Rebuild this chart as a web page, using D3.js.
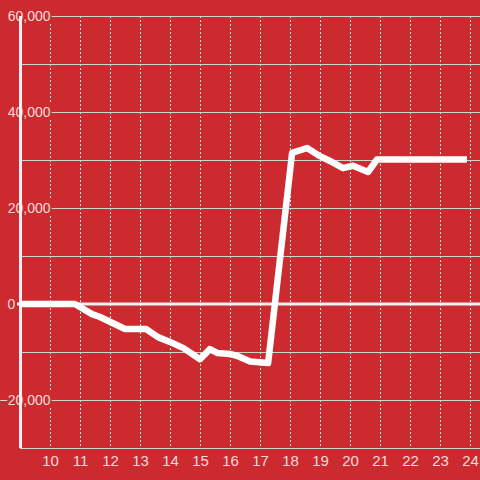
<!DOCTYPE html>
<html>
<head>
<meta charset="utf-8">
<script src="https://cdn.jsdelivr.net/npm/d3@7/dist/d3.min.js"></script>
<style>
  html, body { margin: 0; padding: 0; background: #cc2a2e; }
  svg { display: block; font-family: "Liberation Sans", Arial, sans-serif; }
</style>
</head>
<body>
<div id="chart"></div>
<script>
// series
const hours = [9, 10.83, 11.4, 11.67, 12.5, 13.2, 13.6, 14.0, 14.45, 15.0, 15.33, 15.57, 16.0, 16.23, 16.67, 17.27,
               18.07, 18.57, 19.0, 19.33, 19.77, 20.1, 20.6, 20.9, 23.9];
const values = [0, 0, -2100, -2700, -5200, -5200, -6900, -7900, -9200, -11500, -9400, -10200, -10400, -10800, -12000, -12300,
                31500, 32500, 30800, 29800, 28300, 28800, 27500, 30100, 30100];
const xTicks = [10, 11, 12, 13, 14, 15, 16, 17, 18, 19, 20, 21, 22, 23, 24];
const yGrid = [-30000, -20000, -10000, 0, 10000, 20000, 30000, 40000, 50000, 60000];
const yLabels = [-20000, 0, 20000, 40000, 60000];

const w = 480;
const h = 480;
const bg = '#cc2a2e';
const labelColor = '#f5dada';

const x = d3.scaleLinear().domain([9, 24.333]).range([20, 480]);
const y = d3.scaleLinear().domain([-30000, 60000]).range([448, 16]);

const svg = d3.select('#chart')
              .append('svg')
              .attr('width', w)
              .attr('height', h);

svg.append('rect').attr('width', w).attr('height', h).attr('fill', bg);

// vertical dashed grid
svg.append('g')
   .selectAll('line')
   .data(xTicks)
   .join('line')
   .attr('x1', d => x(d) + 0.5)
   .attr('x2', d => x(d) + 0.5)
   .attr('y1', y(60000))
   .attr('y2', y(-30000))
   .attr('stroke', '#e6e6e6')
   .attr('stroke-width', 1)
   .attr('stroke-dasharray', '2,2');

// horizontal grid
svg.append('g')
   .selectAll('line')
   .data(yGrid.filter(d => d !== 0))
   .join('line')
   .attr('x1', x(9))
   .attr('x2', w)
   .attr('y1', d => Math.round(y(d)) + 0.5)
   .attr('y2', d => Math.round(y(d)) + 0.5)
   .attr('stroke', '#d2d2d2')
   .attr('stroke-width', 1);

// zero line
svg.append('line')
   .attr('x1', 17)
   .attr('x2', w)
   .attr('y1', y(0))
   .attr('y2', y(0))
   .attr('stroke', '#f0f0f0')
   .attr('stroke-width', 3);

// y labels with background boxes (zero label sits left of the axis)
const fmt = d3.format(',');
const yl = svg.append('g')
              .selectAll('g')
              .data(yLabels)
              .join('g');

yl.append('text')
  .attr('x', d => d === 0 ? 7.5 : 50.5)
  .attr('y', d => y(d))
  .attr('dy', '0.35em')
  .attr('text-anchor', d => d === 0 ? 'start' : 'end')
  .attr('font-size', 14)
  .attr('fill', labelColor)
  .text(d => fmt(d));

yl.each(function() {
  const g = d3.select(this);
  const b = g.select('text').node().getBBox();
  g.insert('rect', 'text')
   .attr('x', b.x - 1)
   .attr('y', b.y)
   .attr('width', b.width + 2)
   .attr('height', b.height)
   .attr('fill', bg);
});

// y axis line, drawn over the labels
svg.append('line')
   .attr('x1', x(9) + 0.5)
   .attr('x2', x(9) + 0.5)
   .attr('y1', y(60000))
   .attr('y2', y(-30000))
   .attr('stroke', '#f0f0f0')
   .attr('stroke-width', 3);

// x labels
svg.append('g')
   .selectAll('text')
   .data(xTicks)
   .join('text')
   .attr('x', d => x(d) + 0.5)
   .attr('y', 466)
   .attr('text-anchor', 'middle')
   .attr('font-size', 15)
   .attr('fill', labelColor)
   .text(d => d);

// data line
const line = d3.line()
               .x((d, i) => x(hours[i]))
               .y(d => y(d));

svg.append('path')
   .datum(values)
   .attr('d', line)
   .attr('fill', 'none')
   .attr('stroke', '#ffffff')
   .attr('stroke-width', 6.5)
   .attr('stroke-linejoin', 'round');
</script>
</body>
</html>
